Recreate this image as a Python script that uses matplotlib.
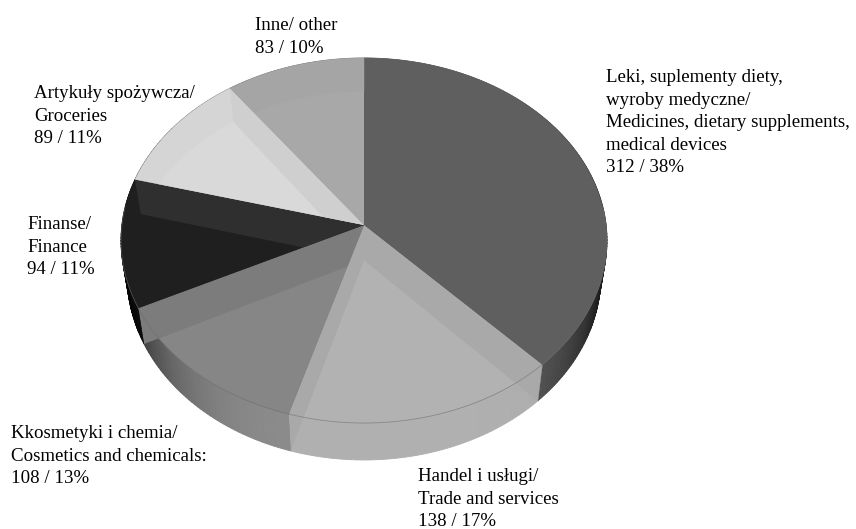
import numpy as np
import matplotlib
matplotlib.use("Agg")
import matplotlib.pyplot as plt
from matplotlib.patches import Polygon
from matplotlib.path import Path

plt.rcParams['font.family'] = ['Liberation Serif', 'DejaVu Serif']

# Data, clockwise from the top.
values = [312, 138, 108, 94, 89, 83]
names = [
    ["Leki, suplementy diety,", "wyroby medyczne/", "Medicines, dietary supplements,", "medical devices"],
    ["Handel i usługi/", "Trade and services"],
    ["Kkosmetyki i chemia/", "Cosmetics and chemicals:"],
    ["Finanse/", "Finance"],
    ["Artykuły spożywcza/", "Groceries"],
    ["Inne/ other"],
]
label_pos = [(606, 82), (418, 481), (11, 438), (27, 229), (34, 98), (255, 30)]

# Greys of the faces and walls.
face_grey = ["#5f5f5f", "#b2b2b2", "#868686", "#1f1f1f", "#d9d9d9", "#a8a8a8"]
band_grey = ["#5f5f5f", "#a9a9a9", "#7c7c7c", "#2f2f2f", "#cfcfcf", "#a5a5a5"]
back_grey = ["#5f5f5f", "#a9a9a9", "#7c7c7c", "#1f1f1f", "#d5d5d5", "#a5a5a5"]
wall_front = [100, 176, 140, 30, 120, 120]
wall_fall = [0.84, 0.08, 0.84, 0.9, 0.8, 0.8]


def rim(theta, top=True):
    # Perspective view of a circle, theta clockwise from the top.
    u, v = np.sin(theta), np.cos(theta)
    w = 1 + 0.0849 * v
    if top:
        return 364 + 242.1 * u / w, 225 - 181.2 * v / w
    return 364 + 236.0 * u / w, 260 - 183.0 * v / w


fig = plt.figure(figsize=(8.56, 5.29), dpi=100)
ax = fig.add_axes([0, 0, 1, 1])
ax.set_xlim(0, 856)
ax.set_ylim(529, 0)
ax.axis('off')

fractions = np.array(values) / sum(values)
edges = np.concatenate([[0], np.cumsum(fractions)]) * 2 * np.pi

# Outer walls go first, the top faces hide the back part.
for i in range(len(values)):
    a = np.linspace(edges[i], edges[i + 1], int(fractions[i] * 360) + 2)
    for t0, t1 in zip(a[:-1], a[1:]):
        x0, y0 = rim(t0)
        x1, y1 = rim(t1)
        x2, y2 = rim(t1, top=False)
        x3, y3 = rim(t0, top=False)
        shade = 1 - wall_fall[i] * abs(np.sin((t0 + t1) / 2)) ** 4
        g = wall_front[i] * shade / 255
        ax.add_patch(Polygon([(x0, y0), (x1, y1), (x2, y2), (x3, y3)],
                             facecolor=(g, g, g), edgecolor=(g, g, g),
                             linewidth=0.6, zorder=1))

# Top faces, seen through: the slice's bottom and its cut walls show.
for i in range(len(values)):
    a = np.linspace(edges[i], edges[i + 1], 120)
    xt, yt = rim(a)
    xb, yb = rim(a, top=False)
    top_pts = [(364, 225)] + list(zip(xt, yt))
    ax.add_patch(Polygon(top_pts, facecolor=back_grey[i], edgecolor=back_grey[i],
                         linewidth=0.3, zorder=2))

    top_clip = Path(top_pts + [top_pts[0]], closed=True)
    inner = Polygon([(364, 260)] + list(zip(xb, yb)), facecolor=face_grey[i],
                    edgecolor='none', zorder=3)
    ax.add_patch(inner)
    inner.set_clip_path(top_clip, ax.transData)

    # Only the front wall can show a cut, the back one is behind the faces.
    front = np.cos(a) < 0.1
    clips = [top_clip]
    if front.sum() > 1:
        wall_pts = list(zip(xt[front], yt[front])) + list(zip(xb[front], yb[front]))[::-1]
        clips.append(Path(wall_pts + [wall_pts[0]], closed=True))
    for t in (edges[i], edges[i + 1]):
        for clip in clips:
            cut = Polygon([(364, 225), rim(t), rim(t, top=False), (364, 260)],
                          facecolor=band_grey[i], edgecolor='none', zorder=4)
            ax.add_patch(cut)
            cut.set_clip_path(clip, ax.transData)

    # Thin line on the front rim.
    ax.plot(xt[front], yt[front], color='#707070', linewidth=0.6, alpha=0.6, zorder=5)

# Labels.
for i in range(len(values)):
    lines = names[i] + [f"{values[i]} / {round(fractions[i] * 100)}%"]
    x, y = label_pos[i]
    for n, line in enumerate(lines):
        ax.text(x, y + n * 22.6, line, fontsize=13.6, color='black',
                ha='left', va='baseline', zorder=6)

fig.savefig("out.png", dpi=100, facecolor='white')
